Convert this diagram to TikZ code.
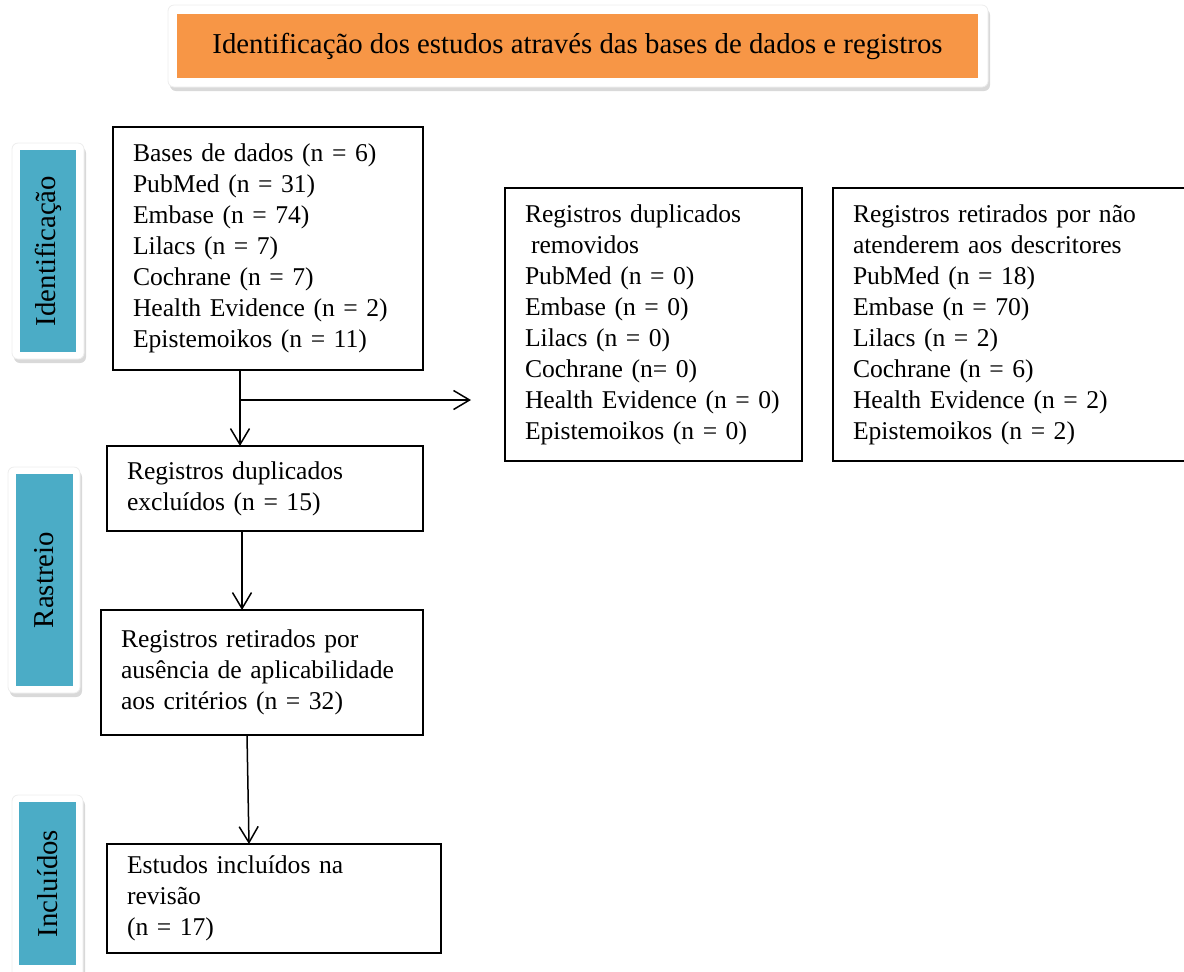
\documentclass[tikz,border=0pt]{standalone}
\usepackage{fontspec}
\setmainfont{Liberation Serif}
\usetikzlibrary{arrows.meta,shadows}
\definecolor{bannerorange}{HTML}{F79646}
\definecolor{phaseteal}{HTML}{4BACC6}

\begin{document}
\begin{tikzpicture}[x=0.5pt,y=-0.5pt,
  every node/.style={outer sep=0pt},
  box/.style={draw,line width=0.9pt,anchor=north west,inner xsep=10pt,inner ysep=0pt,align=left,font=\fontsize{12.8}{15.5}\selectfont},
  frame/.style={draw=black!7,fill=white,rounded corners=3pt,inner sep=0pt,drop shadow={opacity=0.3,shadow xshift=1pt,shadow yshift=-2pt}},
  phase/.style={fill=phaseteal,inner sep=0pt,font=\fontsize{14.4}{16}\selectfont},
  arr/.style={line width=0.75pt,-{Straight Barb[length=8pt,width=9.5pt]}}]
\useasboundingbox (0,0) rectangle (1184,971);
\node[frame,minimum width=410pt,minimum height=41pt] (bannerframe) at (578,46) {};
\node[fill=bannerorange,inner sep=0pt,minimum width=400.5pt,minimum height=32pt,font=\fontsize{14.4}{16}\selectfont] (banner) at (577.5,46) {Identificação dos estudos através das bases de dados e registros};
\node[frame,minimum width=36pt,minimum height=108pt] (idframe) at (48,251) {};
\node[phase,rotate=90,minimum width=101pt,minimum height=28.25pt] (idlabel) at (48,251) {Identificação};
\node[frame,minimum width=36pt,minimum height=113pt] (rsframe) at (44,580) {};
\node[phase,rotate=90,minimum width=106pt,minimum height=28.5pt] (rslabel) at (44.5,580) {Rastreio};
\node[frame,minimum width=35.5pt,minimum height=95pt] (inframe) at (47.5,890) {};
\node[phase,rotate=90,minimum width=81.5pt,minimum height=28.5pt] (inlabel) at (47.5,883.5) {Incluídos};
\node[box,text width=135pt,minimum height=121.5pt] (bases) at (113,127) {Bases de dados (n = 6)\\PubMed (n = 31)\\Embase (n = 74)\\Lilacs (n = 7)\\Cochrane (n = 7)\\Health Evidence (n = 2)\\Epistemoikos (n = 11)};
\node[box,text width=128.5pt,minimum height=136.5pt] (removidos) at (505,188) {Registros duplicados\\\hspace{3pt}removidos\\PubMed (n = 0)\\Embase (n = 0)\\Lilacs (n = 0)\\Cochrane (n= 0)\\Health Evidence (n = 0)\\Epistemoikos (n = 0)};
\node[box,text width=163.5pt,minimum height=136.5pt] (descritores) at (833,188) {Registros retirados por não\\atenderem aos descritores\\PubMed (n = 18)\\Embase (n = 70)\\Lilacs (n = 2)\\Cochrane (n = 6)\\Health Evidence (n = 2)\\Epistemoikos (n = 2)};
\node[box,text width=138pt,minimum height=42.5pt] (excluidos) at (107,446) {Registros duplicados\\excluídos (n = 15)};
\node[box,text width=141pt,minimum height=62.5pt] (criterios) at (101,610) {Registros retirados por\\ausência de aplicabilidade\\aos critérios (n = 32)};
\node[box,text width=147pt,minimum height=54.5pt] (incluidos) at (107,844) {Estudos incluídos na\\revisão\\(n = 17)};
\coordinate (split) at (240,400);
\coordinate (dupend) at (471,400);
\draw[arr] (bases.south -| split) -- (excluidos.north -| split);
\draw[arr] (split) -- (dupend);
\draw[arr] ([xshift=-11.5pt]excluidos.south) -- ([xshift=-10pt]criterios.north);
\draw[arr] ([xshift=-7.5pt]criterios.south) -- ([xshift=-12.5pt]incluidos.north);
\end{tikzpicture}
\end{document}
